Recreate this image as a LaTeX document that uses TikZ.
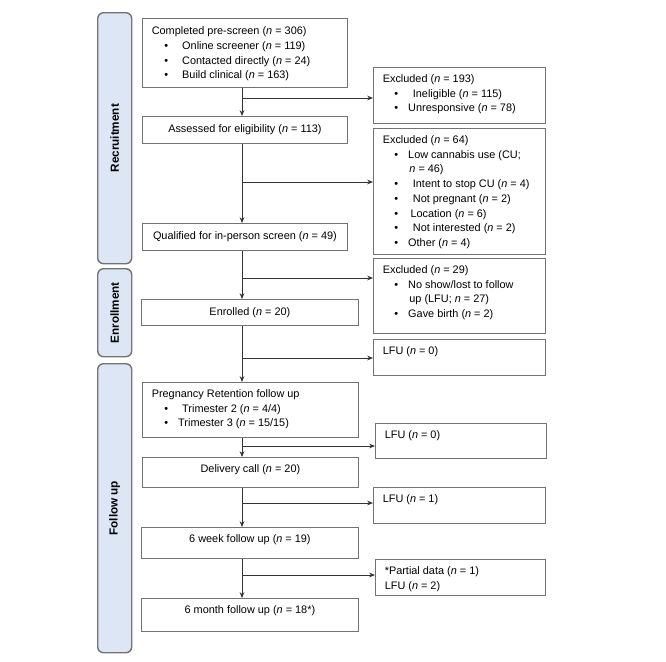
\documentclass[tikz,border=0pt]{standalone}
\usepackage{fontspec}
\setmainfont{Liberation Sans}
\usetikzlibrary{arrows.meta, positioning, calc}
\newcommand{\bul}{\hspace*{0.66cm}\textbullet\hspace{0.42cm}}
\newcommand{\rbul}{\hspace*{0.63cm}\textbullet\hspace{0.3cm}}
\newcommand{\nn}{\textit{n}}
\begin{document}
\begin{tikzpicture}[
            x=0.03cm, y=-0.03cm,
            box/.style={rectangle, draw=black!55, line width=0.7pt, inner sep=0pt, anchor=north west},
            panel/.style={rectangle, rounded corners=5pt, draw=black!55, line width=1.2pt, fill={rgb,255:red,220;green,230;blue,244}, anchor=north west, inner sep=0pt},
            plabel/.style={rotate=90, font=\bfseries\fontsize{10}{12}\selectfont},
            arr/.style={-{Stealth[length=5pt,width=4pt]}, line width=0.7pt, draw=black!80},
            ln/.style={line width=0.7pt, draw=black!80}
        ]
        \useasboundingbox (0,0) rectangle (666,661);
        \fontsize{9.3}{12.6}\selectfont

        % side panels
        \node[panel, minimum width=1.02cm, minimum height=7.53cm] (recr) at (97,12) {};
        \node[panel, minimum width=1.02cm, minimum height=2.64cm] (enrl) at (97,268) {};
        \node[panel, minimum width=1.02cm, minimum height=8.67cm] (fup) at (97,363) {};
        \node[plabel] at (recr.center) {Recruitment};
        \node[plabel] at (enrl.center) {Enrollment};
        \node[plabel] at (fup.center) {Follow up};

        % main column
        \node[box] (pre) at (142,18) {\parbox[t][2.07cm][t]{6.15cm}{\vspace{7pt}\hspace*{8pt}Completed pre-screen (\nn{} = 306)\\
            \bul Online screener (\nn{} = 119)\\
            \bul Contacted directly (\nn{} = 24)\\
            \bul Build clinical (\nn{} = 163)}};
        \node[box] (elig) at (142,116) {\parbox[t][0.81cm][t]{6.15cm}{\vspace{7pt}\centering Assessed for eligibility (\nn{} = 113)}};
        \node[box] (qual) at (142,223) {\parbox[t][0.81cm][t]{6.15cm}{\vspace{7pt}\centering Qualified for in-person screen (\nn{} = 49)}};
        \node[box] (enr) at (141,299) {\parbox[t][0.78cm][t]{6.51cm}{\vspace{7pt}\centering Enrolled (\nn{} = 20)}};
        \node[box] (preg) at (142,382) {\parbox[t][1.65cm][t]{6.48cm}{\vspace{6pt}\hspace*{8pt}Pregnancy Retention follow up\\
            \bul Trimester 2 (\nn{} = 4/4)\\
            \hspace*{0.66cm}\textbullet\hspace{0.3cm}Trimester 3 (\nn{} = 15/15)}};
        \node[box] (deliv) at (142,457) {\parbox[t][0.9cm][t]{6.48cm}{\vspace{6pt}\centering Delivery call (\nn{} = 20)}};
        \node[box] (wk6) at (141,527) {\parbox[t][0.93cm][t]{6.51cm}{\vspace{6pt}\centering 6 week follow up (\nn{} = 19)}};
        \node[box] (mo6) at (141,598) {\parbox[t][0.99cm][t]{6.51cm}{\vspace{6pt}\centering 6 month follow up (\nn{} = 18*)}};

        % exclusion column
        \node[box] (ex1) at (373,67) {\parbox[t][1.68cm][t]{5.16cm}{\vspace{6pt}\hspace*{8pt}Excluded (\nn{} = 193)\\
            \rbul\hspace{4pt}Ineligible (\nn{} = 115)\\
            \rbul Unresponsive (\nn{} = 78)}};
        \node[box] (ex2) at (373,128) {\parbox[t][3.78cm][t]{5.16cm}{\vspace{6pt}\hspace*{8pt}Excluded (\nn{} = 64)\\
            \rbul Low cannabis use (CU;\\
            \hspace*{1.08cm}\nn{} = 46)\\
            \rbul\hspace{4pt}Intent to stop CU (\nn{} = 4)\\
            \rbul\hspace{4pt}Not pregnant (\nn{} = 2)\\
            \rbul\hspace{2pt}Location (\nn{} = 6)\\
            \rbul\hspace{4pt}Not interested (\nn{} = 2)\\
            \rbul Other (\nn{} = 4)}};
        \node[box] (ex3) at (373,258) {\parbox[t][2.25cm][t]{5.16cm}{\vspace{6pt}\hspace*{8pt}Excluded (\nn{} = 29)\\
            \rbul No show/lost to follow\\
            \hspace*{1.08cm}up (LFU; \nn{} = 27)\\
            \rbul Gave birth (\nn{} = 2)}};
        \node[box] (lfua) at (373,339) {\parbox[t][1.08cm][t]{5.16cm}{\vspace{6pt}\hspace*{8pt}LFU (\nn{} = 0)}};
        \node[box] (lfub) at (375,423) {\parbox[t][1.05cm][t]{5.13cm}{\vspace{6pt}\hspace*{8pt}LFU (\nn{} = 0)}};
        \node[box] (lfuc) at (373,487) {\parbox[t][1.08cm][t]{5.16cm}{\vspace{6pt}\hspace*{8pt}LFU (\nn{} = 1)}};
        \node[box] (part) at (375,559) {\parbox[t][1.08cm][t]{5.1cm}{\vspace{6pt}\hspace*{8pt}*Partial data (\nn{} = 1)\\
            \hspace*{8pt}LFU (\nn{} = 2)}};

        % connectors
        \coordinate (spine) at (242,0);
        \coordinate (j1) at (242,98);
        \coordinate (j2) at (242,182);
        \coordinate (j3) at (242,278);
        \coordinate (j4) at (242,358);
        \coordinate (j5) at (242,446);
        \coordinate (j6) at (242,503);
        \coordinate (j7) at (242,575);
        \draw[arr] (pre.south -| spine) -- (elig.north -| spine);
        \draw[arr] (elig.south -| spine) -- (qual.north -| spine);
        \draw[arr] (qual.south -| spine) -- (enr.north -| spine);
        \draw[arr] (enr.south -| spine) -- (preg.north -| spine);
        \draw[arr] (preg.south -| spine) -- (deliv.north -| spine);
        \draw[arr] (deliv.south -| spine) -- (wk6.north -| spine);
        \draw[arr] (wk6.south -| spine) -- (mo6.north -| spine);
        \draw[arr] (j1) -- (j1 -| ex1.west);
        \draw[arr] (j2) -- (j2 -| ex2.west);
        \draw[arr] (j3) -- (j3 -| ex3.west);
        \draw[arr] (j4) -- (j4 -| lfua.west);
        \draw[arr] (j5) -- (j5 -| lfub.west);
        \draw[arr] (j6) -- (j6 -| lfuc.west);
        \draw[arr] (j7) -- (j7 -| part.west);
    \end{tikzpicture}
\end{document}
